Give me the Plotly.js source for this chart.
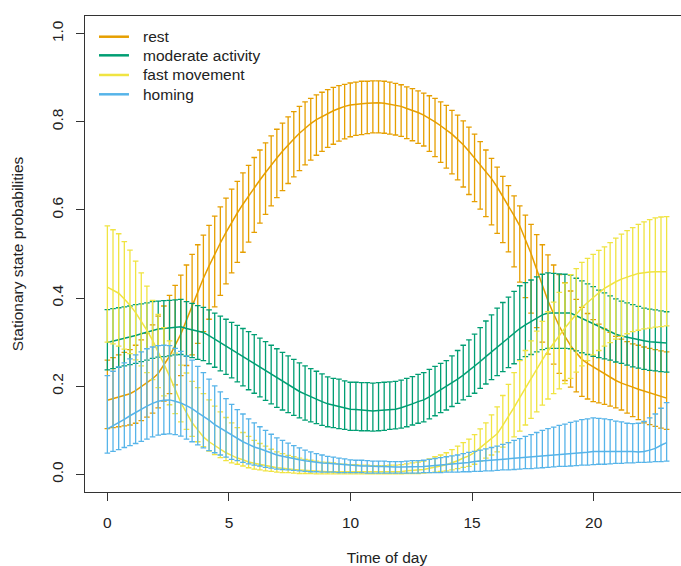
<!DOCTYPE html>
<html>
<head>
<meta charset="utf-8">
<script src="https://cdn.plot.ly/plotly-3.0.1.min.js"></script>
<style>
html,body{margin:0;padding:0;overflow:hidden;background:#fff;}
#chart{width:689px;height:566px;}
</style>
</head>
<body>
<div id="chart"></div>
<script>
// Time of day grid (100 points, 0..23 h)
const hours = [0,0.232,0.465,0.697,0.929,1.162,1.394,1.626,1.859,2.091,2.323,2.556,2.788,3.020,3.253,3.485,3.717,3.949,4.182,4.414,4.646,4.879,5.111,5.343,5.576,5.808,6.040,6.273,6.505,6.737,6.970,7.202,7.434,7.667,7.899,8.131,8.364,8.596,8.828,9.061,9.293,9.525,9.758,9.990,10.222,10.455,10.687,10.919,11.152,11.384,11.616,11.848,12.081,12.313,12.545,12.778,13.010,13.242,13.475,13.707,13.939,14.172,14.404,14.636,14.869,15.101,15.333,15.566,15.798,16.030,16.263,16.495,16.727,16.960,17.192,17.424,17.657,17.889,18.121,18.354,18.586,18.818,19.051,19.283,19.515,19.747,19.980,20.212,20.444,20.677,20.909,21.141,21.374,21.606,21.838,22.071,22.303,22.535,22.768,23];

const stateNames = ["rest","moderate activity","fast movement","homing"];
const stateColors = ["#E69F00","#009E73","#F0E442","#56B4E9"];

// rest
const restMean = [.168,.172,.175,.179,.183,.190,.199,.208,.217,.229,.248,.268,.293,.318,.350,.383,.414,.445,.473,.500,.525,.549,.572,.593,.613,.632,.651,.668,.685,.702,.718,.733,.748,.761,.774,.786,.796,.805,.812,.819,.825,.830,.835,.838,.840,.841,.842,.843,.843,.842,.840,.838,.835,.830,.826,.821,.815,.808,.800,.791,.782,.772,.760,.748,.733,.718,.703,.687,.671,.652,.631,.610,.587,.564,.533,.501,.465,.428,.394,.364,.336,.313,.292,.276,.261,.252,.244,.236,.228,.221,.213,.207,.203,.198,.193,.189,.185,.181,.177,.173];
const restLower = [.104,.106,.108,.110,.112,.116,.122,.130,.139,.151,.166,.183,.203,.224,.247,.271,.297,.324,.352,.380,.406,.432,.457,.481,.504,.527,.549,.570,.590,.609,.628,.644,.660,.675,.689,.702,.713,.724,.733,.742,.749,.756,.761,.766,.769,.771,.773,.775,.775,.774,.772,.770,.767,.762,.757,.751,.745,.733,.721,.708,.695,.682,.668,.652,.635,.619,.602,.585,.566,.547,.526,.505,.471,.436,.401,.366,.333,.300,.273,.250,.229,.213,.198,.187,.177,.171,.165,.162,.159,.155,.151,.146,.139,.131,.124,.117,.113,.109,.105,.102];
const restUpper = [.259,.265,.271,.277,.283,.293,.305,.320,.339,.359,.382,.406,.429,.452,.475,.499,.521,.543,.565,.586,.607,.627,.647,.665,.684,.701,.719,.736,.752,.768,.783,.797,.811,.823,.835,.845,.853,.861,.867,.873,.878,.882,.885,.888,.890,.892,.892,.893,.893,.892,.890,.887,.884,.879,.875,.870,.865,.859,.853,.845,.837,.826,.815,.802,.788,.772,.755,.736,.717,.697,.676,.655,.632,.609,.588,.567,.544,.521,.498,.475,.453,.435,.416,.397,.379,.365,.351,.341,.330,.322,.313,.307,.301,.296,.293,.289,.286,.283,.280,.278];

// moderate activity
const modMean = [.299,.302,.305,.308,.311,.315,.319,.323,.327,.330,.331,.332,.334,.335,.331,.328,.325,.322,.315,.307,.299,.291,.283,.275,.267,.260,.252,.244,.236,.228,.220,.212,.204,.196,.188,.182,.176,.171,.165,.160,.157,.154,.151,.148,.147,.146,.145,.144,.145,.146,.147,.148,.151,.155,.160,.165,.169,.176,.184,.191,.198,.207,.216,.225,.235,.245,.256,.267,.278,.289,.300,.310,.321,.331,.339,.347,.355,.362,.366,.366,.367,.367,.366,.360,.354,.348,.342,.336,.330,.324,.318,.314,.311,.308,.305,.303,.301,.300,.299,.298];
const modLower = [.237,.240,.243,.246,.249,.252,.256,.259,.263,.266,.267,.269,.271,.272,.268,.265,.261,.258,.251,.243,.235,.227,.219,.210,.201,.192,.184,.176,.168,.160,.152,.146,.140,.134,.128,.123,.119,.115,.111,.108,.106,.104,.102,.100,.100,.099,.099,.098,.099,.100,.102,.103,.105,.108,.112,.116,.119,.126,.133,.140,.146,.154,.161,.169,.177,.184,.195,.205,.215,.224,.233,.242,.251,.260,.267,.272,.278,.283,.286,.286,.286,.286,.285,.280,.276,.272,.268,.265,.262,.259,.255,.252,.248,.244,.241,.238,.236,.235,.233,.232];
const modUpper = [.374,.376,.378,.380,.382,.385,.387,.389,.392,.393,.394,.395,.396,.397,.392,.388,.383,.379,.373,.366,.359,.352,.345,.338,.331,.324,.317,.309,.301,.293,.285,.277,.269,.261,.253,.246,.240,.234,.228,.221,.218,.216,.212,.209,.209,.208,.208,.207,.208,.209,.210,.211,.214,.218,.222,.227,.231,.238,.245,.252,.258,.269,.281,.293,.305,.318,.333,.348,.362,.377,.390,.402,.415,.428,.435,.441,.448,.454,.457,.456,.455,.454,.452,.445,.439,.432,.426,.418,.412,.405,.398,.393,.389,.385,.381,.377,.375,.373,.371,.369];

// fast movement
const fastMean = [.425,.418,.411,.398,.384,.367,.348,.327,.304,.279,.251,.223,.193,.163,.140,.117,.101,.085,.074,.065,.056,.049,.043,.037,.033,.028,.025,.022,.020,.018,.015,.014,.012,.011,.010,.009,.008,.007,.007,.006,.006,.006,.005,.005,.005,.005,.005,.005,.005,.005,.005,.006,.006,.008,.009,.010,.011,.014,.016,.019,.022,.026,.031,.037,.042,.050,.060,.070,.081,.092,.111,.130,.152,.174,.196,.218,.239,.260,.280,.298,.316,.332,.348,.363,.378,.390,.402,.412,.422,.430,.437,.443,.448,.452,.456,.458,.459,.460,.460,.460];
const fastLower = [.300,.296,.291,.284,.274,.260,.246,.231,.215,.197,.178,.158,.138,.119,.102,.086,.074,.063,.053,.045,.038,.031,.026,.023,.019,.015,.012,.010,.008,.007,.005,.004,.004,.003,.002,.002,.002,.001,.001,.001,.001,.001,.001,.001,.001,.001,.001,.001,.001,.001,.001,.001,.001,.002,.002,.002,.003,.004,.005,.007,.008,.010,.013,.016,.018,.023,.030,.037,.044,.051,.062,.072,.085,.098,.112,.127,.142,.157,.171,.183,.194,.206,.218,.232,.246,.258,.271,.281,.291,.299,.307,.313,.319,.324,.327,.330,.332,.334,.335,.337];
const fastUpper = [.564,.555,.546,.528,.509,.484,.457,.427,.395,.363,.333,.303,.275,.248,.230,.211,.197,.183,.169,.155,.142,.129,.117,.106,.095,.086,.077,.070,.064,.057,.051,.047,.043,.040,.037,.034,.032,.030,.028,.027,.026,.024,.023,.022,.022,.021,.021,.020,.020,.020,.021,.021,.022,.024,.026,.028,.030,.035,.040,.044,.049,.056,.064,.072,.080,.090,.103,.117,.135,.153,.179,.204,.231,.258,.281,.303,.325,.347,.369,.391,.413,.434,.453,.467,.481,.490,.499,.508,.516,.526,.536,.545,.553,.560,.567,.573,.578,.582,.584,.585];

// homing
const homeMean = [.103,.110,.117,.125,.133,.141,.148,.155,.161,.166,.168,.169,.166,.162,.156,.149,.140,.132,.123,.113,.105,.096,.088,.081,.074,.068,.062,.058,.053,.048,.044,.041,.038,.035,.033,.031,.029,.028,.026,.025,.024,.022,.021,.020,.020,.019,.019,.018,.018,.018,.017,.017,.017,.017,.018,.018,.018,.019,.020,.021,.022,.023,.024,.026,.027,.029,.030,.031,.033,.034,.035,.036,.037,.038,.039,.039,.040,.041,.042,.043,.044,.045,.046,.048,.049,.050,.052,.052,.052,.053,.053,.053,.052,.052,.051,.052,.055,.059,.066,.072];
const homeLower = [.048,.052,.056,.061,.065,.070,.075,.080,.085,.089,.091,.092,.090,.087,.080,.074,.067,.060,.054,.049,.044,.039,.034,.031,.027,.024,.021,.019,.016,.014,.012,.011,.010,.009,.008,.007,.006,.006,.005,.005,.005,.004,.004,.004,.004,.004,.003,.003,.003,.003,.003,.003,.003,.003,.003,.003,.004,.004,.004,.004,.005,.005,.005,.006,.006,.007,.007,.008,.008,.009,.010,.010,.011,.012,.013,.013,.014,.015,.016,.017,.018,.018,.019,.020,.021,.021,.022,.023,.023,.024,.025,.025,.026,.026,.027,.027,.028,.029,.029,.030];
const homeUpper = [.224,.234,.244,.253,.262,.271,.278,.285,.289,.292,.293,.292,.286,.279,.269,.259,.245,.231,.216,.201,.187,.172,.159,.147,.137,.126,.117,.108,.100,.091,.083,.077,.071,.065,.060,.055,.051,.047,.044,.041,.039,.037,.035,.033,.032,.032,.031,.030,.030,.030,.029,.029,.029,.030,.031,.031,.032,.034,.036,.038,.040,.042,.044,.047,.050,.052,.055,.058,.061,.064,.068,.072,.077,.081,.086,.090,.095,.100,.104,.107,.111,.114,.118,.121,.124,.126,.128,.127,.126,.124,.121,.119,.116,.115,.116,.120,.128,.137,.150,.163];

const xTicks = [0,5,10,15,20];
const yTicks = [0,0.2,0.4,0.6,0.8,1.0];
const yTickText = ["0.0","0.2","0.4","0.6","0.8","1.0"];

const series = [
  [restMean, restLower, restUpper],
  [modMean, modLower, modUpper],
  [fastMean, fastLower, fastUpper],
  [homeMean, homeLower, homeUpper]
];

const traces = [];
series.forEach(function(s, k){
  const m = s[0], lo = s[1], hi = s[2];
  traces.push({
    type: 'scatter', mode: 'lines', x: hours, y: m,
    name: stateNames[k], showlegend: false,
    line: {color: stateColors[k], width: 1.5},
    error_y: {
      type: 'data', symmetric: false,
      array: hi.map(function(v,i){return v - m[i];}),
      arrayminus: lo.map(function(v,i){return m[i] - v;}),
      color: stateColors[k], thickness: 1.3, width: 2.8
    },
    hoverinfo: 'skip'
  });
});

const font = {family: '"Liberation Sans", Arial, sans-serif', size: 15.5, color: '#222'};

// Legend drawn in paper coordinates (R-style legend box without border)
const legendRowsY = [0.9565, 0.9174, 0.8761, 0.8355];
const shapes = [];
const annotations = [];
stateNames.forEach(function(n, k){
  shapes.push({type: 'line', xref: 'paper', yref: 'paper',
    x0: 0.0232, x1: 0.0728, y0: legendRowsY[k], y1: legendRowsY[k],
    line: {color: stateColors[k], width: 2.5}});
  annotations.push({xref: 'paper', yref: 'paper', x: 0.092, y: legendRowsY[k],
    xanchor: 'left', yanchor: 'middle', showarrow: false, text: n,
    font: font});
});

const layout = {
  width: 689, height: 566,
  margin: {l: 85, r: 0, t: 16, b: 74},
  paper_bgcolor: '#fff', plot_bgcolor: '#fff',
  font: font,
  showlegend: false,
  shapes: shapes,
  annotations: annotations,
  xaxis: {
    range: [-0.92, 23.92], tickvals: xTicks, ticks: 'outside', ticklen: 8,
    tickcolor: '#333', tickwidth: 1, showgrid: false, zeroline: false,
    showline: true, linecolor: '#333', linewidth: 1.2, mirror: true,
    ticklabelstandoff: 8,
    title: {text: 'Time of day', standoff: 31, font: font}
  },
  yaxis: {
    range: [-0.04, 1.04], tickvals: yTicks, ticktext: yTickText, tickangle: -90,
    ticks: 'outside', ticklen: 8, tickcolor: '#333', tickwidth: 1,
    showgrid: false, zeroline: false,
    showline: true, linecolor: '#333', linewidth: 1.2, mirror: true,
    ticklabelstandoff: 7,
    title: {text: 'Stationary state probabilities', standoff: 21, font: font}
  }
};

Plotly.newPlot('chart', traces, layout, {staticPlot: true, displayModeBar: false});
</script>
</body>
</html>
